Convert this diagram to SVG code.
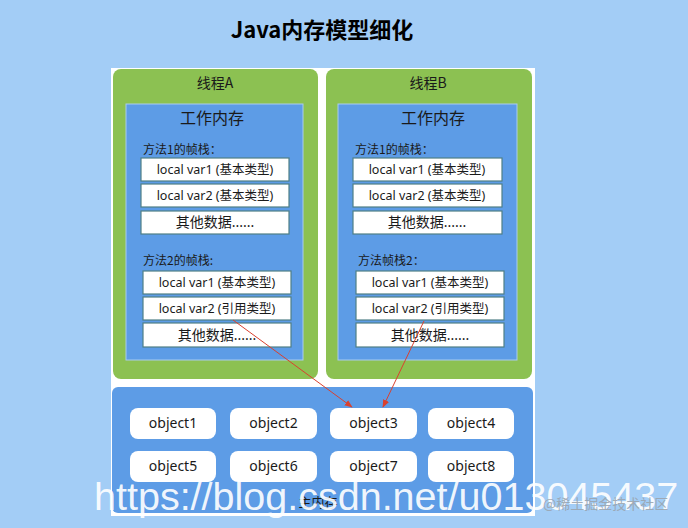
<svg xmlns="http://www.w3.org/2000/svg" width="688" height="528" viewBox="0 0 688 528">
<defs>
<style>
text{font-family:"Noto Sans","Noto Sans CJK SC",sans-serif;fill:#1a1a1a}
.cjk{font-family:"Noto Sans CJK SC",sans-serif}
.green{fill:#8cc152}
.inner{fill:#5d9ce6;stroke:#a9ccf0;stroke-width:1}
.box{fill:#ffffff;stroke:#4f7f86;stroke-width:1.2}
.obj{fill:#ffffff}
.t-box{font-size:12.5px;text-anchor:middle}
.t-other{font-size:14px;text-anchor:middle}
.t-stack{font-size:12px}
.t-obj{font-size:14px;text-anchor:middle}
.arrow{stroke:#d9412f;stroke-width:1;fill:none;marker-end:url(#ah)}
</style>
<marker id="ah" viewBox="0 0 10 10" refX="9" refY="5" markerWidth="8" markerHeight="8" orient="auto" markerUnits="userSpaceOnUse">
<path d="M0,1 L10,5 L0,9 Z" fill="#d9412f"/>
</marker>
</defs>
<rect width="688" height="528" fill="#a3cdf6"/>
<text x="322" y="38" class="cjk" style="font-size:22px;font-weight:bold;text-anchor:middle;fill:#000">Java内存模型细化</text>
<rect x="111" y="68" width="424" height="448" fill="#ffffff"/>

<g id="threadA">
<rect x="113" y="69" width="205" height="310" rx="8" class="green"/>
<text x="215" y="88" class="cjk" style="font-size:14px;text-anchor:middle">线程A</text>
<rect x="126" y="104" width="177" height="256" class="inner"/>
<text x="212" y="124" class="cjk" style="font-size:16px;text-anchor:middle">工作内存</text>
<text x="143" y="154" class="t-stack cjk">方法1的帧栈：</text>
<rect x="141" y="158" width="148" height="23" class="box"/>
<text x="215" y="174" class="t-box">local var1 (基本类型)</text>
<rect x="141" y="184" width="148" height="23" class="box"/>
<text x="215" y="200" class="t-box">local var2 (基本类型)</text>
<rect x="141" y="211" width="148" height="23" class="box"/>
<text x="215" y="227" class="t-other">其他数据......</text>
<text x="143" y="265" class="t-stack cjk">方法2的帧栈:</text>
<rect x="143" y="271" width="148" height="23" class="box"/>
<text x="217" y="287" class="t-box">local var1 (基本类型)</text>
<rect x="143" y="297" width="148" height="23" class="box"/>
<text x="217" y="313" class="t-box">local var2 (引用类型)</text>
<rect x="143" y="323" width="148" height="24" class="box"/>
<text x="217" y="340" class="t-other">其他数据......</text>
</g>

<g id="threadB">
<rect x="326" y="69" width="206" height="310" rx="8" class="green"/>
<text x="428" y="88" class="cjk" style="font-size:14px;text-anchor:middle">线程B</text>
<rect x="338" y="104" width="179" height="256" class="inner"/>
<text x="433" y="124" class="cjk" style="font-size:16px;text-anchor:middle">工作内存</text>
<text x="355" y="154" class="t-stack cjk">方法1的帧栈：</text>
<rect x="353" y="158" width="149" height="23" class="box"/>
<text x="427" y="174" class="t-box">local var1 (基本类型)</text>
<rect x="353" y="184" width="149" height="23" class="box"/>
<text x="427" y="200" class="t-box">local var2 (基本类型)</text>
<rect x="353" y="211" width="149" height="23" class="box"/>
<text x="427" y="227" class="t-other">其他数据......</text>
<text x="358" y="265" class="t-stack cjk">方法帧栈2：</text>
<rect x="356" y="271" width="148" height="23" class="box"/>
<text x="430" y="287" class="t-box">local var1 (基本类型)</text>
<rect x="356" y="297" width="148" height="23" class="box"/>
<text x="430" y="313" class="t-box">local var2 (引用类型)</text>
<rect x="356" y="323" width="148" height="24" class="box"/>
<text x="430" y="340" class="t-other">其他数据......</text>
</g>

<g id="mainMemory">
<rect x="112" y="387" width="421" height="126" rx="6" fill="#5d9ce6"/>
<text x="318" y="507" class="cjk" style="font-size:13px;text-anchor:middle">主内存</text>
</g>
<g id="object1"><rect x="130" y="408" width="86" height="31" rx="8" class="obj"/><text x="173" y="428" class="t-obj">object1</text></g>
<g id="object2"><rect x="230" y="408" width="87" height="31" rx="8" class="obj"/><text x="273.5" y="428" class="t-obj">object2</text></g>
<g id="object3"><rect x="330" y="408" width="87" height="31" rx="8" class="obj"/><text x="373.5" y="428" class="t-obj">object3</text></g>
<g id="object4"><rect x="428" y="408" width="86" height="31" rx="8" class="obj"/><text x="471" y="428" class="t-obj">object4</text></g>
<g id="object5"><rect x="130" y="451" width="86" height="31" rx="8" class="obj"/><text x="173" y="471" class="t-obj">object5</text></g>
<g id="object6"><rect x="230" y="451" width="87" height="31" rx="8" class="obj"/><text x="273.5" y="471" class="t-obj">object6</text></g>
<g id="object7"><rect x="330" y="451" width="87" height="31" rx="8" class="obj"/><text x="373.5" y="471" class="t-obj">object7</text></g>
<g id="object8"><rect x="428" y="451" width="86" height="31" rx="8" class="obj"/><text x="471" y="471" class="t-obj">object8</text></g>

<g id="connectors">
<line x1="233" y1="320" x2="352" y2="407" class="arrow"/>
<line x1="424" y1="321" x2="383" y2="407" class="arrow"/>
</g>

<text x="94" y="510" style="font-family:'Liberation Sans',Arial,sans-serif;font-size:39.5px;fill:#ffffff;fill-opacity:0.92">https://blog.csdn.net/u013045437</text>
<text x="543" y="509" class="cjk" style="font-size:14px;fill:#9aa4ae;fill-opacity:0.9">@稀土掘金技术社区</text>
</svg>
